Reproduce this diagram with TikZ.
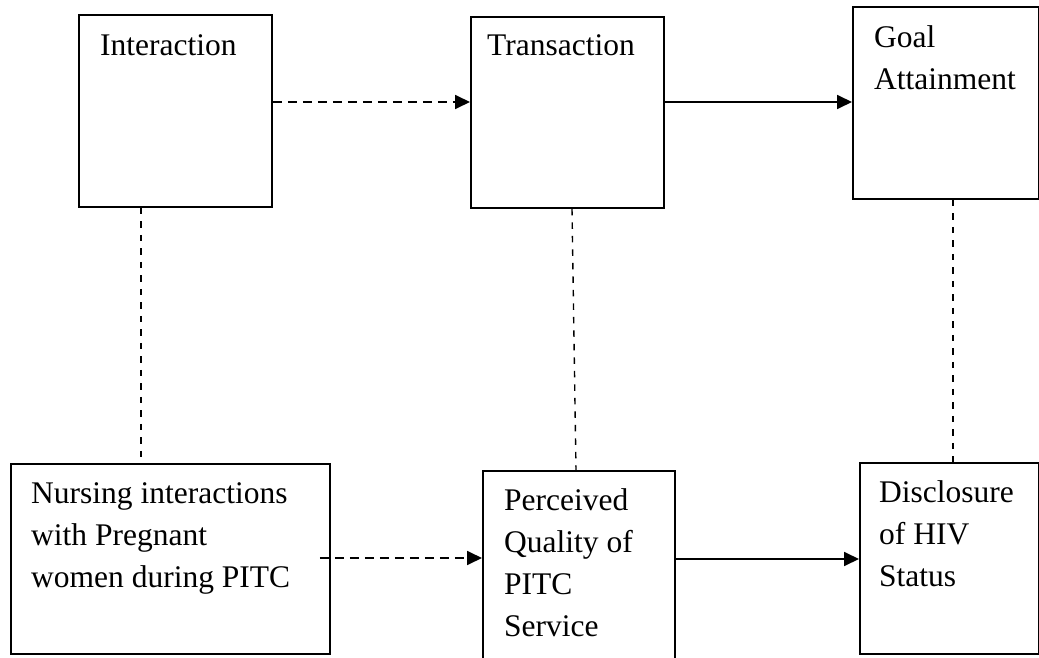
\documentclass[tikz,border=0pt]{standalone}
\usepackage{fontspec}
\setmainfont{Liberation Serif}
\usetikzlibrary{arrows.meta}
\tikzset{
  box/.style={draw, line width=1.8pt, inner sep=0pt, anchor=north west},
  lbl/.style={inner sep=0pt, align=left, font=\fontsize{31.5}{42}\selectfont},
  solidarrow/.style={line width=1.8pt, -{Triangle[length=15pt,width=14pt]}},
  dasharrow/.style={line width=1.8pt, dash pattern=on 9pt off 6pt, -{Triangle[length=15pt,width=14pt]}},
  vlink/.style={line width=1.4pt, dash pattern=on 6.5pt off 7pt}
}
\begin{document}
\begin{tikzpicture}[x=1pt,y=-1pt]
\useasboundingbox (0,0) rectangle (1039,658);
% boxes
\node[box, minimum width=193pt, minimum height=192pt] (inter) at (78,14) {};
\node[box, minimum width=193pt, minimum height=191pt] (trans) at (470,16) {};
\node[box, minimum width=186pt, minimum height=192pt] (goal) at (852,6) {};
\node[box, minimum width=319pt, minimum height=190pt] (nurs) at (10,463) {};
\node[box, minimum width=192pt, minimum height=200pt] (perc) at (482,470) {};
\node[box, minimum width=179pt, minimum height=191pt] (disc) at (859,462) {};
% texts
\node[lbl, anchor=base west] (tinter) at (100,56) {Interaction};
\node[lbl, anchor=base west] (ttrans) at (487,56) {Transaction};
\node[lbl, anchor=north west] (tgoal) at (874,25.5) {Goal\\Attainment};
\node[lbl, anchor=north west] (tnurs) at (31,482.5) {Nursing interactions\\with Pregnant\\women during PITC};
\node[lbl, anchor=north west] (tperc) at (504,488.5) {Perceived\\Quality of\\PITC\\Service};
\node[lbl, anchor=north west] (tdisc) at (879,480.5) {Disclosure\\of HIV\\Status};
% helper levels
\coordinate (ay) at (0,102);
\coordinate (by) at (0,558);
\coordinate (cy) at (0,559);
% horizontal connectors
\draw[dasharrow] (inter.east |- ay) -- (trans.west |- ay);
\draw[solidarrow] (trans.east |- ay) -- (goal.west |- ay);
\draw[dasharrow] ([xshift=-11pt]nurs.east |- by) -- (perc.west |- by);
\draw[solidarrow] (perc.east |- cy) -- (disc.west |- cy);
% vertical links
\draw[vlink] ([xshift=63pt]inter.south west) -- ([xshift=131pt]nurs.north west);
\draw[vlink] ([xshift=102pt]trans.south west) -- ([xshift=94pt]perc.north west);
\draw[vlink] ([xshift=101pt]goal.south west) -- ([xshift=94pt]disc.north west);
\end{tikzpicture}
\end{document}
